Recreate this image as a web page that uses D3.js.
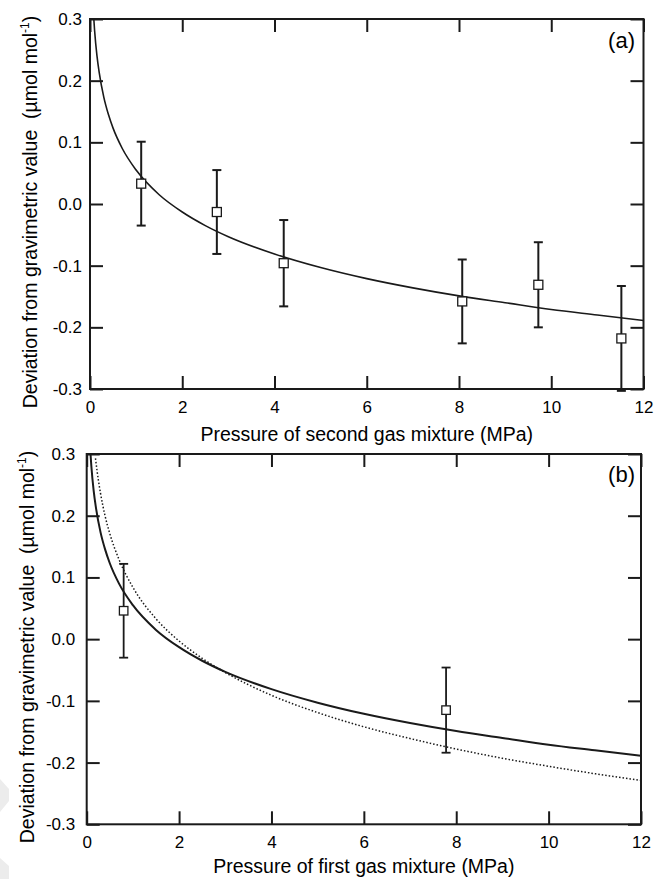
<!DOCTYPE html>
<html>
<head>
<meta charset="utf-8">
<script src="https://cdn.jsdelivr.net/npm/d3@7"></script>
<style>
  html, body { margin: 0; padding: 0; background: #fff; }
  svg { display: block; font-family: "Liberation Sans", Arial, sans-serif; }
</style>
</head>
<body>
<svg id="chart" width="656" height="879"></svg>
<script>
// ---------- data ----------
const xTicks = [0, 2, 4, 6, 8, 10, 12];
const xTickLabels = ["0", "2", "4", "6", "8", "10", "12"];
const yTicks = [0.3, 0.2, 0.1, 0.0, -0.1, -0.2, -0.3];
const yTickLabels = ["0.3", "0.2", "0.1", "0.0", "-0.1", "-0.2", "-0.3"];

// panel (a) measurements
const pressureA = [1.11, 2.75, 4.20, 8.07, 9.72, 11.52];
const deviationA = [0.033, -0.013, -0.096, -0.158, -0.131, -0.218];
const errorA = [0.068, 0.068, 0.070, 0.068, 0.069, 0.085];

// panel (b) measurements
const pressureB = [0.80, 7.78];
const deviationB = [0.046, -0.115];
const errorB = [0.076, 0.069];

// solid curve
const solidX = [0.08, 0.1, 0.15, 0.2, 0.3, 0.4, 0.5, 0.7, 1, 1.5, 2, 2.5, 3, 4, 5, 6, 7, 8, 9, 10, 11, 12];
const solidY = [0.303, 0.281, 0.241, 0.213, 0.173, 0.145, 0.123, 0.090, 0.055, 0.015, -0.013, -0.035, -0.053, -0.081, -0.103, -0.121, -0.136, -0.149, -0.160, -0.171, -0.180, -0.189];

// dotted curve in panel (b)
const dottedX = [0.19, 0.2, 0.25, 0.3, 0.4, 0.5, 0.7, 1, 1.5, 2, 2.5, 3, 4, 5, 6, 7, 8, 9, 10, 11, 12];
const dottedY = [0.293, 0.287, 0.259, 0.236, 0.199, 0.171, 0.129, 0.084, 0.033, -0.003, -0.031, -0.054, -0.091, -0.119, -0.142, -0.161, -0.178, -0.193, -0.206, -0.218, -0.229];

const panels = [
  { id: "a", label: "(a)", xLabel: "Pressure of second gas mixture (MPa)",
    left: 90, right: 643.5, top: 19, bottom: 389,
    px: pressureA, py: deviationA, pe: errorA, dotted: false,
    yPad: 8, xPad: 12, yLabelX: 37, yLabelY: 212, xLabelY: 441, tagY: 48,
    curveW: 1.6, errW: 2, sq: 9 },
  { id: "b", label: "(b)", xLabel: "Pressure of first gas mixture (MPa)",
    left: 86.7, right: 641, top: 454, bottom: 824.3,
    px: pressureB, py: deviationB, pe: errorB, dotted: true,
    yPad: 11.5, xPad: 11.5, yLabelX: 33.5, yLabelY: 647, xLabelY: 873, tagY: 482,
    curveW: 2, errW: 1.8, sq: 8.5 }
];

const ink = "#1a1a1a";
const svg = d3.select("#chart");

// faint background artefact at lower left
svg.append("path").attr("d", "M0,779 L9,789 L9,801 L0,812 Z").attr("fill", "#ececec");
svg.append("path").attr("d", "M0,858 L9,866 L9,879 L0,879 Z").attr("fill", "#ececec");

panels.forEach(p => {
  const x = d3.scaleLinear().domain([0, 12]).range([p.left, p.right]);
  const y = d3.scaleLinear().domain([-0.3, 0.3]).range([p.bottom, p.top]);
  const g = svg.append("g");

  const clipId = "clip-" + p.id;
  svg.append("clipPath").attr("id", clipId)
    .append("rect").attr("x", p.left).attr("y", p.top)
    .attr("width", p.right - p.left).attr("height", p.bottom - p.top);

  const tickLen = 13;
  const fmtX = (d, i) => xTickLabels[i];
  const fmtY = (d, i) => yTickLabels[i];

  const axB = g.append("g").attr("transform", `translate(0,${p.bottom})`)
    .call(d3.axisBottom(x).tickValues(xTicks).tickFormat(fmtX).tickSizeInner(-tickLen).tickSizeOuter(0).tickPadding(p.xPad));
  const axT = g.append("g").attr("transform", `translate(0,${p.top})`)
    .call(d3.axisTop(x).tickValues(xTicks).tickFormat("").tickSizeInner(-tickLen).tickSizeOuter(0));
  const axL = g.append("g").attr("transform", `translate(${p.left},0)`)
    .call(d3.axisLeft(y).tickValues(yTicks).tickFormat(fmtY).tickSizeInner(-tickLen).tickSizeOuter(0).tickPadding(p.yPad));
  const axR = g.append("g").attr("transform", `translate(${p.right},0)`)
    .call(d3.axisRight(y).tickValues(yTicks).tickFormat("").tickSizeInner(-tickLen).tickSizeOuter(0));

  [axB, axT, axL, axR].forEach(a => {
    a.select(".domain").remove();
    a.selectAll(".tick line").attr("stroke", ink).attr("stroke-width", 2);
    a.selectAll(".tick text").attr("fill", "#000").attr("font-size", 17)
      .attr("font-family", "'Liberation Sans', Arial, sans-serif");
  });

  // frame
  g.append("rect").attr("x", p.left).attr("y", p.top)
    .attr("width", p.right - p.left).attr("height", p.bottom - p.top)
    .attr("fill", "none").attr("stroke", ink).attr("stroke-width", 2);

  const plot = g.append("g").attr("clip-path", `url(#${clipId})`);

  const line = d3.line().x(d => x(d[0])).y(d => y(d[1])).curve(d3.curveMonotoneX);

  plot.append("path").datum(solidX.map((v, i) => [v, solidY[i]]))
    .attr("d", line).attr("fill", "none").attr("stroke", ink).attr("stroke-width", p.curveW);

  if (p.dotted) {
    plot.append("path").datum(dottedX.map((v, i) => [v, dottedY[i]]))
      .attr("d", line).attr("fill", "none").attr("stroke", ink)
      .attr("stroke-width", 1.5).attr("stroke-dasharray", "1.5 2");
  }

  // error bars
  const pts = p.px.map((v, i) => ({ x: v, y: p.py[i], e: p.pe[i] }));
  const cap = 4.5;
  const eb = g.append("g").attr("stroke", ink).attr("stroke-width", p.errW);
  pts.forEach(d => {
    const cx = x(d.x), yt = y(d.y + d.e), yb = y(d.y - d.e);
    eb.append("line").attr("x1", cx).attr("x2", cx).attr("y1", yt).attr("y2", yb);
    eb.append("line").attr("x1", cx - cap).attr("x2", cx + cap).attr("y1", yt).attr("y2", yt);
    eb.append("line").attr("x1", cx - cap).attr("x2", cx + cap).attr("y1", yb).attr("y2", yb);
  });

  // markers
  g.append("g").selectAll("rect").data(pts).join("rect")
    .attr("x", d => x(d.x) - p.sq / 2).attr("y", d => y(d.y) - p.sq / 2)
    .attr("width", p.sq).attr("height", p.sq)
    .attr("fill", "#fff").attr("stroke", ink).attr("stroke-width", 1.3);

  // panel tag
  g.append("text").attr("x", 635).attr("y", p.tagY).attr("text-anchor", "end")
    .attr("font-size", 22).attr("fill", "#000").text(p.label);

  // x label
  g.append("text").attr("x", (p.left + p.right) / 2).attr("y", p.xLabelY)
    .attr("text-anchor", "middle").attr("font-size", 19.5).attr("fill", "#000")
    .text(p.xLabel);

  // y label
  const yl = g.append("text")
    .attr("transform", `translate(${p.yLabelX},${p.yLabelY}) rotate(-90)`)
    .attr("text-anchor", "middle").attr("font-size", 19.5).attr("fill", "#000")
    .style("white-space", "pre");
  yl.append("tspan").text("Deviation from gravimetric value  (\u00b5mol mol");
  yl.append("tspan").attr("font-size", 12).attr("dy", -8).text("-1");
  yl.append("tspan").attr("dy", 8).text(")");
});
</script>
</body>
</html>
